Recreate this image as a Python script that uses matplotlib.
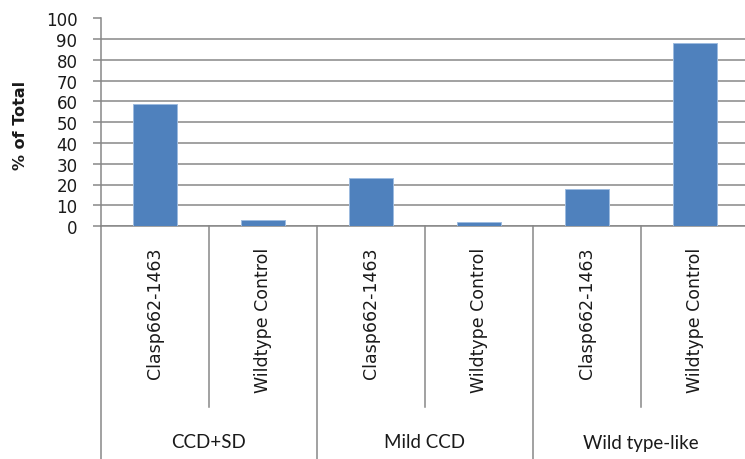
import matplotlib.pyplot as plt
import numpy as np
from matplotlib.lines import Line2D
from matplotlib.transforms import blended_transform_factory

GROUPS = ["CCD+SD", "Mild CCD", "Wild type-like"]
STRAINS = ["Clasp662-1463", "Wildtype Control"]
PERCENT = [59, 3, 23, 2, 18, 88]
YTICKS = list(range(0, 101, 10))

BAR_COLOR = "#4F81BD"
GRID_COLOR = "#878787"
TEXT_COLOR = "#1a1a1a"

fig = plt.figure(figsize=(7.45, 4.6), dpi=100)
# plot area runs a little past the right edge, like the spreadsheet export
ax = fig.add_axes([101 / 745, 1 - 227 / 460, 648 / 745, 207.5 / 460])

x = np.arange(len(PERCENT))
ax.bar(x, PERCENT, width=0.4, color=BAR_COLOR, edgecolor="#9DBBE0",
       linewidth=0.7, zorder=3)

ax.set_xlim(-0.5, len(PERCENT) - 0.5)
ax.set_ylim(0, 100)
ax.set_yticks(YTICKS)
ax.set_yticklabels([str(v) for v in YTICKS], fontsize=12, color=TEXT_COLOR)
ax.set_xticks([])
ax.yaxis.grid(True, color=GRID_COLOR, linewidth=1.1, zorder=0)
ax.tick_params(axis="y", length=6, width=1.1, color=GRID_COLOR, pad=11)

for side in ["top", "right"]:
    ax.spines[side].set_visible(False)
for side in ["left", "bottom"]:
    ax.spines[side].set_color(GRID_COLOR)
    ax.spines[side].set_linewidth(1.1)

ax.text(-81 / 648, 0.49, "% of Total", transform=ax.transAxes, rotation=90,
        ha="center", va="center", fontsize=11.5, fontweight="bold",
        color=TEXT_COLOR)

# two-level category axis below the plot
trans = blended_transform_factory(ax.transData, ax.transAxes)
px = 1 / 207.5
for i in range(len(PERCENT) + 1):
    edge = i - 0.5
    low = -233 * px if i % 2 == 0 else -181 * px
    ax.add_line(Line2D([edge, edge], [0, low], transform=trans,
                       color=GRID_COLOR, linewidth=1.1, clip_on=False))

labels = [s for _ in GROUPS for s in STRAINS]
for i, lab in enumerate(labels):
    ax.text(i, -21 * px, lab, transform=trans, rotation=90, ha="center",
            va="top", fontsize=12.5, color=TEXT_COLOR)

for g, name in enumerate(GROUPS):
    ax.text(2 * g + 0.5, -216 * px, name, transform=trans, ha="center",
            va="center", fontsize=13.5, family="Lato", color=TEXT_COLOR)

fig.savefig("out.png", dpi=100)
